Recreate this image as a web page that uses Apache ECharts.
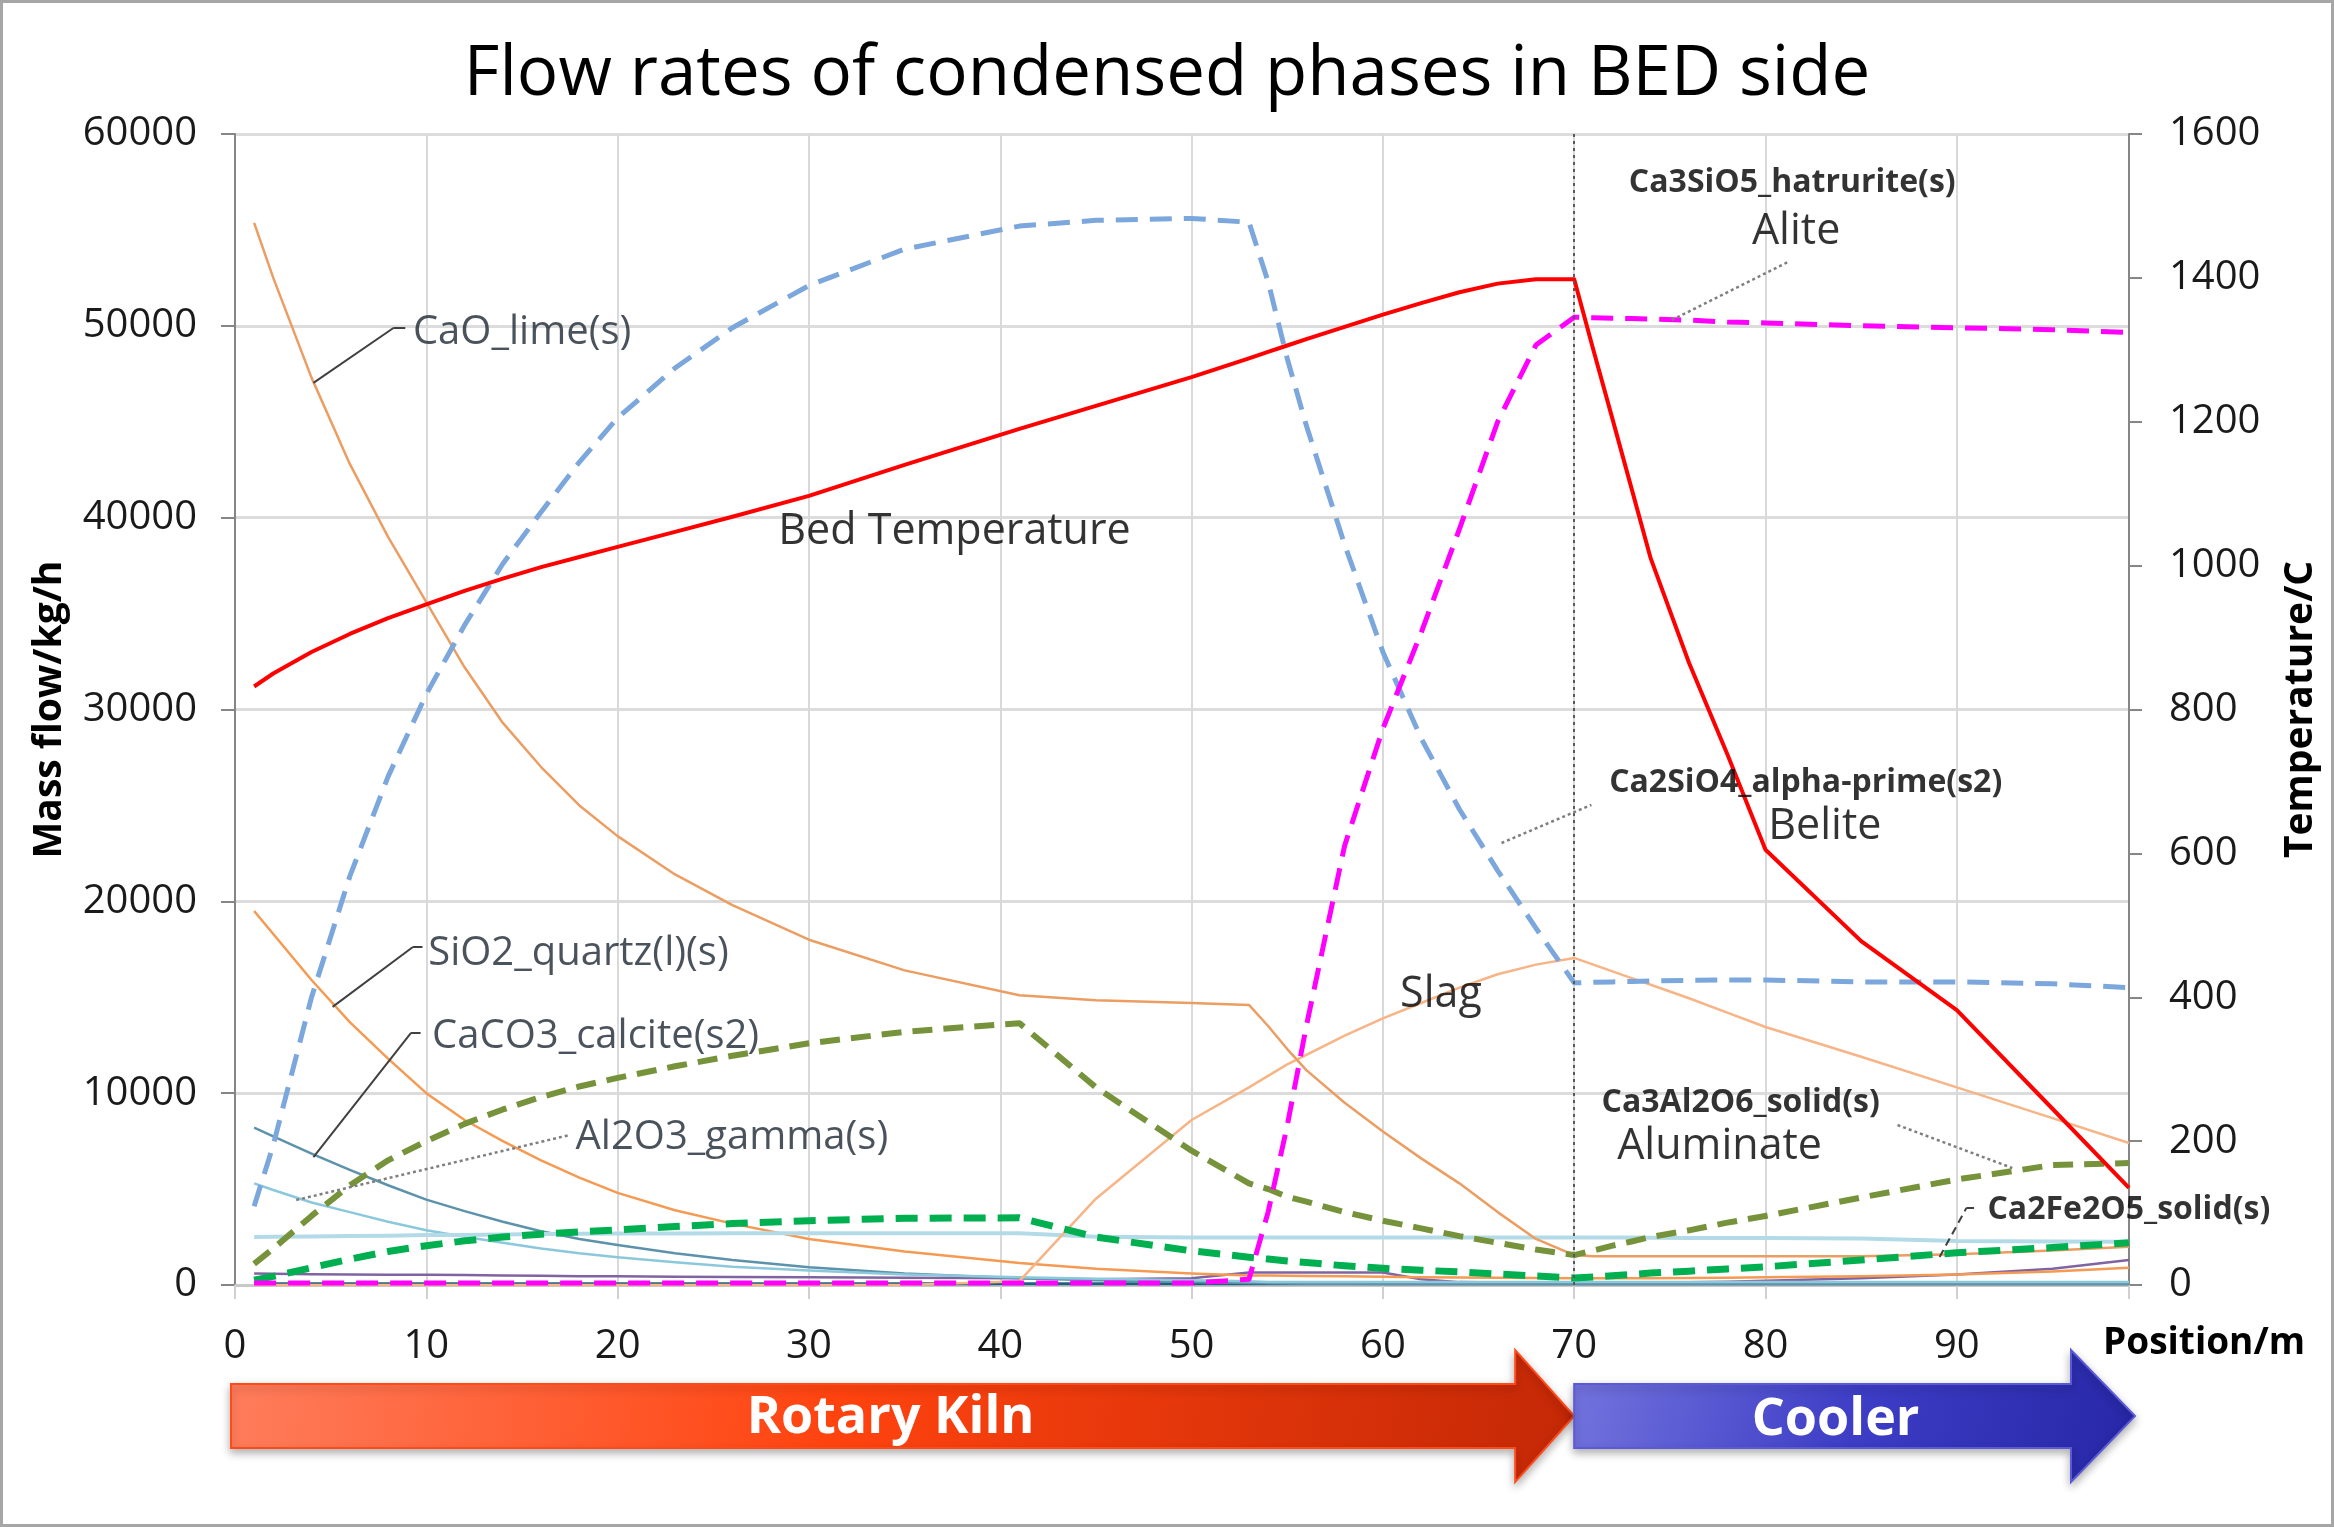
<!DOCTYPE html>
<html>
<head>
<meta charset="utf-8">
<script src="https://cdn.jsdelivr.net/npm/echarts@6/dist/echarts.min.js"></script>
<style>
  html, body { margin: 0; padding: 0; background: #fff; }
  #main { width: 2334px; height: 1527px; }
</style>
</head>
<body>
<div id="main"></div>
<script>
// position along kiln + cooler (m)
var position = [1, 2, 4, 6, 8, 10, 12, 14, 16, 18, 20, 23, 26, 30, 35, 41, 45, 50, 53, 54,
  55, 56, 58, 60, 62, 64, 66, 68, 70, 71, 72, 73, 74, 76, 78, 80, 85, 90, 95, 99];

// temperature (C), right axis
var bedTemperature = [832, 850, 880, 905, 927, 946, 965, 982, 998, 1012, 1026, 1047, 1068, 1097, 1140, 1190, 1222, 1262, 1288, 1297,
  1306, 1315, 1332, 1349, 1365, 1380, 1392, 1398, 1398, 1300, 1204, 1107, 1010, 865, 738, 605, 478, 382, 245, 135];

// mass flows (kg/h), left axis
var belite = [4100, 7300, 15000, 21300, 26500, 30800, 34400, 37600, 40300, 42900, 45200, 47800, 49900, 52100, 54000, 55200, 55500, 55600, 55400, 52300,
  48300, 44800, 38600, 33000, 28500, 24800, 21600, 18600, 15750, 15780, 15800, 15820, 15850, 15880, 15900, 15900, 15800, 15800, 15700, 15500];
var alite = [100, 100, 100, 100, 100, 100, 100, 100, 100, 100, 100, 100, 100, 100, 100, 100, 100, 100, 300, 3800,
  8300, 13500, 22900, 29000, 34000, 39400, 45000, 49000, 50450, 50420, 50400, 50380, 50350, 50300, 50200, 50150, 50000, 49900, 49800, 49650];
var lime = [55370, 52500, 47300, 42800, 39000, 35600, 32200, 29300, 27000, 25000, 23400, 21400, 19800, 18000, 16400, 15100, 14850, 14700, 14600, 13500,
  12300, 11200, 9500, 8000, 6600, 5300, 3800, 2400, 1560, 1500, 1500, 1500, 1500, 1500, 1500, 1500, 1500, 1600, 1800, 2000];
var slag = [0, 0, 0, 0, 0, 0, 0, 0, 0, 0, 0, 0, 0, 0, 0, 200, 4500, 8600, 10300, 10900,
  11500, 12000, 13000, 13900, 14700, 15500, 16200, 16700, 17050, 16700, 16350, 16000, 15650, 14950, 14200, 13450, 11900, 10300, 8700, 7400];
var quartz = [19500, 18300, 15900, 13700, 11800, 10000, 8600, 7500, 6500, 5600, 4800, 3900, 3200, 2400, 1750, 1150, 850, 600, 500, 490,
  480, 470, 450, 430, 410, 390, 380, 370, 350, 350, 350, 350, 350, 360, 380, 400, 450, 550, 700, 900];
var calcite = [8200, 7750, 6850, 6000, 5200, 4450, 3850, 3300, 2800, 2400, 2080, 1650, 1300, 930, 600, 350, 250, 150, 100, 90,
  80, 70, 60, 50, 50, 50, 50, 50, 50, 50, 50, 50, 50, 50, 50, 50, 50, 50, 50, 50];
var alumina = [5300, 4950, 4300, 3800, 3300, 2850, 2520, 2200, 1900, 1650, 1450, 1180, 950, 750, 550, 400, 320, 250, 200, 150,
  150, 150, 150, 150, 150, 150, 150, 150, 150, 150, 150, 150, 150, 150, 150, 150, 150, 150, 150, 150];
var otherCyan = [2500, 2510, 2530, 2550, 2570, 2600, 2610, 2630, 2660, 2670, 2680, 2690, 2700, 2700, 2700, 2700, 2520, 2480, 2480, 2480,
  2480, 2480, 2480, 2480, 2480, 2480, 2480, 2480, 2480, 2480, 2480, 2470, 2460, 2450, 2450, 2450, 2430, 2290, 2270, 2260];
var ferrite = [250, 450, 900, 1350, 1750, 2050, 2300, 2500, 2650, 2770, 2870, 3050, 3200, 3350, 3480, 3500, 2500, 1780, 1450, 1350,
  1250, 1170, 1000, 870, 770, 680, 570, 470, 370, 420, 480, 550, 620, 720, 840, 950, 1300, 1680, 1950, 2200];
var aluminate = [1100, 1900, 3600, 5200, 6500, 7500, 8400, 9150, 9800, 10350, 10800, 11400, 11950, 12600, 13200, 13650, 10300, 7000, 5300, 5000,
  4600, 4350, 3800, 3350, 2950, 2550, 2200, 1850, 1560, 1800, 2050, 2270, 2500, 2850, 3250, 3600, 4560, 5500, 6250, 6360];
var otherPurple = [600, 580, 560, 550, 540, 530, 520, 500, 480, 460, 450, 430, 420, 400, 380, 350, 300, 350, 650, 650,
  650, 650, 650, 650, 300, 150, 130, 110, 100, 105, 110, 115, 120, 140, 170, 220, 350, 550, 850, 1300];
var otherDark = [60, 60, 60, 60, 60, 60, 60, 60, 60, 60, 60, 60, 60, 60, 60, 60, 60, 60, 60, 60,
  60, 60, 60, 60, 60, 60, 60, 60, 60, 60, 60, 60, 60, 60, 60, 60, 60, 60, 60, 60];

// axis ticks
var xTicks = [0, 10, 20, 30, 40, 50, 60, 70, 80, 90];

// annotation texts and where they sit (data units, left axis)
var noteText = ['CaO_lime(s)', 'SiO2_quartz(l)(s)', 'CaCO3_calcite(s2)', 'Al2O3_gamma(s)', 'Bed Temperature', 'Slag',
  'Ca3SiO5_hatrurite(s)', 'Alite', 'Ca2SiO4_alpha-prime(s2)', 'Belite', 'Ca3Al2O6_solid(s)', 'Aluminate', 'Ca2Fe2O5_solid(s)'];
var noteX = [9.3, 10.1, 10.3, 17.8, 28.4, 60.9, 81.4, 81.6, 82.1, 83.1, 78.7, 77.6, 91.6];
var noteY = [49630, 17300, 12930, 7660, 39270, 15130, 57450, 54900, 26170, 23880, 9490, 7200, 3910];

// leader lines: [x1, y1, x2, y2]
var leaders = [
  [4.1, 47030, 8.3, 49900], [8.3, 49900, 8.9, 49900],
  [5.1, 14500, 9.3, 17620], [9.3, 17620, 9.8, 17620],
  [4.1, 6670, 9.2, 13140], [9.2, 13140, 9.7, 13140],
  [3.2, 4430, 17.5, 7820],
  [75.1, 50300, 81.2, 53340],
  [66.2, 23040, 70.9, 25030],
  [86.9, 8340, 92.9, 6100],
  [89.1, 1460, 90.5, 4010], [90.5, 4010, 90.9, 4010]
];
var leaderKind = ['solid', 'solid', 'solid', 'solid', 'solid', 'solid', 'dotted', 'dotted', 'dotted', 'dotted', 'dashed', 'dashed'];

var FONT = '"Open Sans", "Noto Sans", sans-serif';

function pairs(vals) {
  return position.map(function (x, i) { return [x, vals[i]]; });
}

function line(name, vals, color, width, dash, yAxisIndex) {
  return {
    name: name,
    type: 'line',
    yAxisIndex: yAxisIndex || 0,
    data: pairs(vals),
    showSymbol: false,
    symbol: 'none',
    smooth: false,
    silent: true,
    lineStyle: { color: color, width: width, type: dash || 'solid', cap: 'butt', join: 'round' }
  };
}

var noteStyle = function (i) {
  var bold = [6, 8, 10, 12].indexOf(i) >= 0;
  var big = [4, 5, 7, 9, 11].indexOf(i) >= 0;
  var centered = [6, 7, 8, 9, 10, 11].indexOf(i) >= 0;
  return {
    show: true,
    position: 'inside',
    formatter: noteText[i],
    align: centered ? 'center' : 'left',
    verticalAlign: 'middle',
    fontFamily: FONT,
    fontSize: bold ? 32 : (big ? 43 : 40),
    fontWeight: bold ? 'bold' : 'normal',
    color: (bold || big) ? '#000000' : '#1d2733'
  };
};

var leaderStyle = {
  solid: { color: '#404040', width: 2, type: 'solid' },
  dotted: { color: '#7f7f7f', width: 2.5, type: [3, 3] },
  dashed: { color: '#404040', width: 2, type: [8, 5] }
};

var chartDom = document.getElementById('main');
var myChart = echarts.init(chartDom, null, { renderer: 'canvas' });

var plain = function (v) { return String(v); };

var option = {
  backgroundColor: '#ffffff',
  animation: false,
  title: {
    text: 'Flow rates of condensed phases in BED side',
    left: 'center',
    top: 36,
    textStyle: { fontFamily: FONT, fontSize: 69, fontWeight: 'normal', color: '#000' }
  },
  grid: { left: 235, right: 205, top: 134, bottom: 242, containLabel: false, outerBoundsMode: 'none' },
  xAxis: {
    type: 'value',
    min: 0,
    max: 99,
    interval: 10,
    name: 'Position/m',
    nameLocation: 'end',
    nameGap: -26,
    nameTextStyle: { fontFamily: FONT, fontSize: 37, fontWeight: 'bold', color: '#000', align: 'left', verticalAlign: 'top', padding: [40, 0, 0, 0] },
    axisLine: { show: true, lineStyle: { color: '#c8c8c8', width: 3 } },
    axisTick: { show: true, length: 14, lineStyle: { color: '#d0d0d0', width: 2 } },
    axisLabel: {
      margin: 42,
      fontFamily: FONT, fontSize: 40, color: '#1a1a1a',
      formatter: function (v) { return xTicks.indexOf(v) >= 0 ? String(v) : ''; }
    },
    splitLine: { show: true, lineStyle: { color: '#d9d9d9', width: 2 } }
  },
  yAxis: [
    {
      type: 'value',
      min: 0,
      max: 60000,
      interval: 10000,
      name: 'Mass flow/kg/h',
      nameLocation: 'middle',
      nameRotate: 90,
      nameGap: 166,
      nameTextStyle: { fontFamily: FONT, fontSize: 39, fontWeight: 'bold', color: '#000' },
      axisLine: { show: true, lineStyle: { color: '#868686', width: 2 } },
      axisTick: { show: true, length: 14, lineStyle: { color: '#868686', width: 2 } },
      axisLabel: { margin: 38, fontFamily: FONT, fontSize: 40, color: '#1a1a1a', formatter: plain },
      splitLine: { show: true, lineStyle: { color: '#dcdcdc', width: 3 } }
    },
    {
      type: 'value',
      position: 'right',
      min: 0,
      max: 1600,
      interval: 200,
      name: 'Temperature/C',
      nameLocation: 'middle',
      nameRotate: 90,
      nameGap: 152,
      nameTextStyle: { fontFamily: FONT, fontSize: 39, fontWeight: 'bold', color: '#000' },
      axisLine: { show: true, lineStyle: { color: '#868686', width: 2 } },
      axisTick: { show: true, length: 13, lineStyle: { color: '#868686', width: 2 } },
      axisLabel: { margin: 40, fontFamily: FONT, fontSize: 40, color: '#1a1a1a', formatter: plain },
      splitLine: { show: false }
    }
  ],
  series: [
    line('other dark', otherDark, '#21607c', 3),
    line('other purple', otherPurple, '#8064a2', 2.5),
    line('SiO2_quartz(l)(s)', quartz, '#f59a52', 2.5),
    line('CaCO3_calcite(s2)', calcite, '#5c93ab', 2.5),
    line('Al2O3_gamma(s)', alumina, '#8cc8dc', 2.5),
    line('other cyan', otherCyan, '#b3dbe7', 4),
    line('Slag', slag, '#f7b486', 2.5),
    line('CaO_lime(s)', lime, '#eb9d62', 2.5),
    line('Ca2Fe2O5_solid(s)', ferrite, '#00b050', 7, [22, 12]),
    line('Ca3Al2O6_solid(s)', aluminate, '#76933c', 6, [20, 11]),
    line('Ca2SiO4_alpha-prime(s2)', belite, '#7ca7dc', 5, [22, 12]),
    line('Ca3SiO5_hatrurite(s)', alite, '#ff00ff', 5, [22, 12]),
    line('Bed Temperature', bedTemperature, '#ff0000', 4, 'solid', 1),
    {
      name: 'notes',
      type: 'scatter',
      yAxisIndex: 0,
      silent: true,
      symbolSize: 0,
      z: 10,
      data: noteText.map(function (t, i) {
        return { value: [noteX[i], noteY[i]], label: noteStyle(i) };
      }),
      markLine: {
        silent: true,
        symbol: ['none', 'none'],
        label: { show: false },
        animation: false,
        data: [{ xAxis: 70, lineStyle: { color: '#595959', width: 2, type: [3, 4] } }].concat(
          leaders.map(function (l, i) {
            return [
              { coord: [l[0], l[1]], lineStyle: leaderStyle[leaderKind[i]] },
              { coord: [l[2], l[3]] }
            ];
          })
        )
      }
    }
  ]
};

myChart.setOption(option);

// phase arrows under the axis, aligned with the x scale
var px0 = myChart.convertToPixel({ xAxisIndex: 0 }, 0);
var px70 = myChart.convertToPixel({ xAxisIndex: 0 }, 70);
var px99 = myChart.convertToPixel({ xAxisIndex: 0 }, 99);
var bodyTop = 1384, bodyBottom = 1448, headTop = 1350, headBottom = 1482, mid = 1416;

function arrow(xStart, xTip, headLen) {
  var hb = xTip - headLen;
  return [[xStart, bodyTop], [hb, bodyTop], [hb, headTop], [xTip, mid], [hb, headBottom], [hb, bodyBottom], [xStart, bodyBottom]];
}

myChart.setOption({
  graphic: [
    {
      type: 'rect', silent: true,
      shape: { x: 1.5, y: 1.5, width: 2331, height: 1524 },
      style: { fill: 'none', stroke: '#a6a6a6', lineWidth: 3 }
    },
    {
      type: 'polygon', silent: true,
      shape: { points: arrow(px0 - 4, px70, 59) },
      style: {
        fill: new echarts.graphic.LinearGradient(0, 0, 1, 1, [
          { offset: 0, color: '#ff7d5c' },
          { offset: 0.45, color: '#ff430f' },
          { offset: 1, color: '#c42806' }
        ]),
        stroke: '#ff4a1a', lineWidth: 2,
        shadowBlur: 8, shadowColor: 'rgba(0,0,0,0.3)', shadowOffsetY: 4
      }
    },
    {
      type: 'polygon', silent: true,
      shape: { points: arrow(px70, px99 + 6, 64) },
      style: {
        fill: new echarts.graphic.LinearGradient(0, 0, 1, 1, [
          { offset: 0, color: '#7474de' },
          { offset: 0.5, color: '#3d3dc6' },
          { offset: 1, color: '#2626a6' }
        ]),
        stroke: '#5a5ad6', lineWidth: 2,
        shadowBlur: 8, shadowColor: 'rgba(0,0,0,0.3)', shadowOffsetY: 4
      }
    },
    {
      type: 'text', silent: true, z: 20,
      style: {
        text: 'Rotary Kiln', x: (px0 + px70) / 2 - 14, y: mid + 2,
        fill: '#ffffff', fontFamily: FONT, fontSize: 52, fontWeight: 'bold',
        align: 'center', verticalAlign: 'middle'
      }
    },
    {
      type: 'text', silent: true, z: 20,
      style: {
        text: 'Cooler', x: (px70 + px99) / 2 - 16, y: mid + 4,
        fill: '#ffffff', fontFamily: FONT, fontSize: 52, fontWeight: 'bold',
        align: 'center', verticalAlign: 'middle'
      }
    }
  ]
});
</script>
</body>
</html>
